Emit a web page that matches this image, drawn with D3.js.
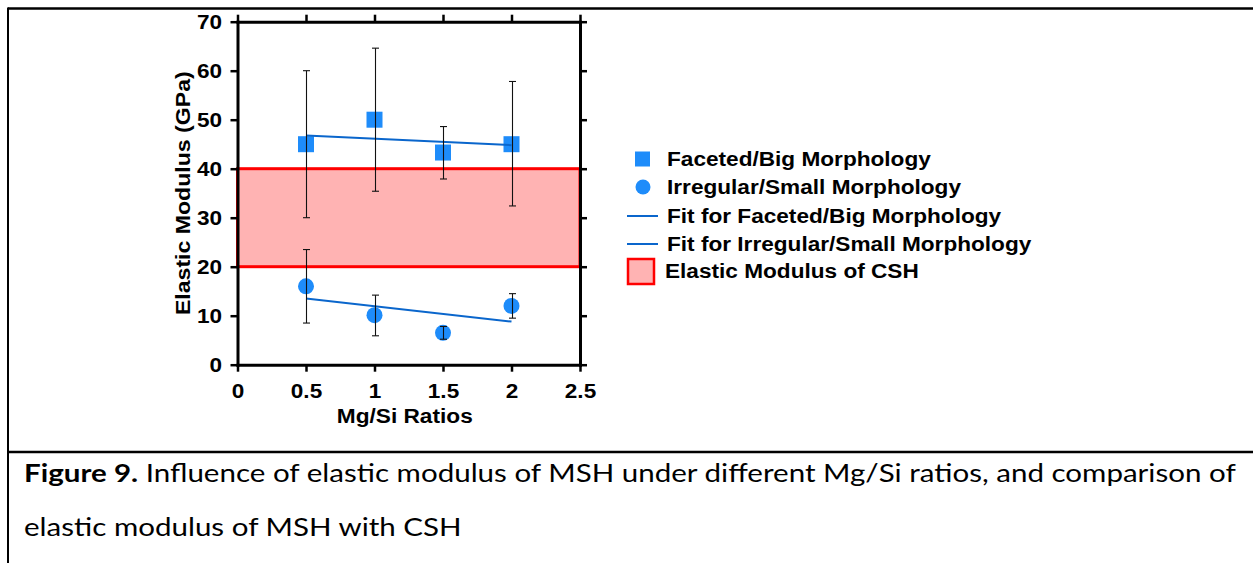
<!DOCTYPE html>
<html>
<head>
<meta charset="utf-8">
<script src="https://cdn.jsdelivr.net/npm/d3@7"></script>
<style>
  html, body { margin: 0; padding: 0; background: #fff; }
  svg { display: block; }
  .lbl { font-family: "Liberation Sans", Arial, Helvetica, sans-serif; font-weight: bold; fill: #000; }
  .cap { font-family: Lato, "Open Sans", sans-serif; fill: #000; }
</style>
</head>
<body>
<svg id="chart" width="1253" height="563"></svg>
<script>
// Mg/Si ratios tested
const ratios = [0.5, 1, 1.5, 2];

// Faceted / big morphology: mean and error-bar limits (GPa)
const facetedMean = [45, 50, 43.3, 45];
const facetedHigh = [60, 64.6, 48.6, 57.8];
const facetedLow  = [30, 35.4, 37.9, 32.4];

// Irregular / small morphology: mean and error-bar limits (GPa)
const irregularMean = [16, 10.1, 6.5, 12];
const irregularHigh = [23.5, 14.2, 7.8, 14.5];
const irregularLow  = [8.5, 5.9, 5.2, 9.5];

// Linear fit end points over the ratio range
const fitRange = [0.5, 2];
const fitFaceted = [46.8, 44.8];
const fitIrregular = [13.5, 8.8];

// Elastic modulus range of C-S-H (GPa)
const cshRange = [20, 40];

// Axis ticks
const xTicks = [0, 0.5, 1, 1.5, 2, 2.5];
const xTickLabels = ["0", "0.5", "1", "1.5", "2", "2.5"];
const yTicks = [0, 10, 20, 30, 40, 50, 60, 70];
const yTickLabels = ["0", "10", "20", "30", "40", "50", "60", "70"];

const legendLabels = [
  "Faceted/Big Morphology",
  "Irregular/Small Morphology",
  "Fit for Faceted/Big Morphology",
  "Fit for Irregular/Small Morphology",
  "Elastic Modulus of CSH"
];

const captionBold = "Figure 9.";
const captionLine1 = " Influence of elastic modulus of MSH under different Mg/Si ratios, and comparison of";
const captionLine2 = "elastic modulus of MSH with CSH";

const markerBlue = "#1e8cfa";
const fitBlue = "#0a66cc";

const svg = d3.select("#chart");

// outer frame of the figure and caption separator
svg.append("line").attr("x1", 8).attr("x2", 1253).attr("y1", 8.5).attr("y2", 8.5)
  .attr("stroke", "#000").attr("stroke-width", 2.5);
svg.append("line").attr("x1", 8).attr("x2", 8).attr("y1", 7.5).attr("y2", 563)
  .attr("stroke", "#000").attr("stroke-width", 2);
svg.append("line").attr("x1", 8).attr("x2", 1253).attr("y1", 452).attr("y2", 452)
  .attr("stroke", "#000").attr("stroke-width", 2.5);

const x = d3.scaleLinear().domain([0, 2.5]).range([237.5, 580]);
const y = d3.scaleLinear().domain([0, 70]).range([364.7, 21.7]);

// C-S-H band
svg.append("rect")
  .attr("x", x(0)).attr("y", y(cshRange[1]))
  .attr("width", x(2.5) - x(0)).attr("height", y(cshRange[0]) - y(cshRange[1]))
  .attr("fill", "#ffb3b3").attr("stroke", "#ff0000").attr("stroke-width", 3);

// axes: box with outward ticks on all four sides
function styleAxis(g) {
  g.select(".domain").attr("stroke-width", 3).attr("stroke-linecap", "square");
  g.selectAll(".tick line").attr("stroke-width", 2.5);
  g.selectAll(".tick text").attr("class", "lbl").attr("font-size", 20.5)
    .attr("transform", "scale(1.1,1)");
}

svg.append("g").attr("transform", `translate(0,${y(0)})`)
  .call(d3.axisBottom(x).tickValues(xTicks).tickFormat((d, i) => xTickLabels[i])
    .tickSize(7).tickSizeOuter(0).tickPadding(12))
  .call(styleAxis);
svg.append("g").attr("transform", `translate(0,${y(70)})`)
  .call(d3.axisTop(x).tickValues(xTicks).tickFormat("").tickSize(7).tickSizeOuter(0))
  .call(styleAxis);
svg.append("g").attr("transform", `translate(${x(0)},0)`)
  .call(d3.axisLeft(y).tickValues(yTicks).tickFormat((d, i) => yTickLabels[i])
    .tickSize(7).tickSizeOuter(0).tickPadding(7))
  .call(styleAxis);
svg.append("g").attr("transform", `translate(${x(2.5)},0)`)
  .call(d3.axisRight(y).tickValues(yTicks).tickFormat("").tickSize(7).tickSizeOuter(0))
  .call(styleAxis);

// axis titles
svg.append("text").attr("class", "lbl").attr("font-size", 21)
  .attr("text-anchor", "middle")
  .attr("transform", `translate(${(x(0) + x(2.5)) / 2 - 4},423) scale(1.08,1)`)
  .text("Mg/Si Ratios");
svg.append("text").attr("class", "lbl").attr("font-size", 21)
  .attr("text-anchor", "middle")
  .attr("transform", `translate(190,${(y(0) + y(70)) / 2}) rotate(-90) scale(1.1,1)`)
  .text("Elastic Modulus (GPa)");

// markers
const sq = 16;
svg.append("g").selectAll("rect").data(ratios).join("rect")
  .attr("x", d => x(d) - sq / 2)
  .attr("y", (d, i) => y(facetedMean[i]) - sq / 2)
  .attr("width", sq).attr("height", sq)
  .attr("fill", markerBlue);
svg.append("g").selectAll("circle").data(ratios).join("circle")
  .attr("cx", d => x(d))
  .attr("cy", (d, i) => y(irregularMean[i]))
  .attr("r", 8)
  .attr("fill", markerBlue);

// fit lines
const fitLine = d3.line().x(d => x(d[0])).y(d => y(d[1]));
[fitFaceted, fitIrregular].forEach(f => {
  svg.append("path")
    .attr("d", fitLine(fitRange.map((r, i) => [r, f[i]])))
    .attr("fill", "none").attr("stroke", fitBlue).attr("stroke-width", 2);
});

// error bars
function errorBars(high, low) {
  const g = svg.append("g").attr("stroke", "#111").attr("stroke-width", 1.1);
  ratios.forEach((r, i) => {
    const cx = Math.round(x(r)) + 0.5;
    g.append("line").attr("x1", cx).attr("x2", cx).attr("y1", y(high[i])).attr("y2", y(low[i]));
    g.append("line").attr("x1", cx - 3.5).attr("x2", cx + 3.5).attr("y1", y(high[i])).attr("y2", y(high[i]));
    g.append("line").attr("x1", cx - 3.5).attr("x2", cx + 3.5).attr("y1", y(low[i])).attr("y2", y(low[i]));
  });
}
errorBars(facetedHigh, facetedLow);
errorBars(irregularHigh, irregularLow);

// legend
const legendY = [159, 187, 216, 244, 271];
const leg = svg.append("g");
leg.append("rect").attr("x", 635).attr("y", legendY[0] - 7.5).attr("width", 15).attr("height", 15).attr("fill", markerBlue);
leg.append("circle").attr("cx", 643).attr("cy", legendY[1]).attr("r", 7.5).attr("fill", markerBlue);
leg.append("line").attr("x1", 627).attr("x2", 658).attr("y1", legendY[2]).attr("y2", legendY[2]).attr("stroke", fitBlue).attr("stroke-width", 2);
leg.append("line").attr("x1", 627).attr("x2", 658).attr("y1", legendY[3]).attr("y2", legendY[3]).attr("stroke", fitBlue).attr("stroke-width", 2);
leg.append("rect").attr("x", 628).attr("y", legendY[4] - 12).attr("width", 26).attr("height", 25)
  .attr("fill", "#ffb3b3").attr("stroke", "#ff0000").attr("stroke-width", 2.5);
const legendX = [667, 667, 667, 667, 665];
leg.selectAll("text").data(legendLabels).join("text")
  .attr("class", "lbl").attr("font-size", 19.5)
  .attr("transform", (d, i) => `translate(${legendX[i]},${legendY[i] + 6.5}) scale(1.16,1)`)
  .text(d => d);

// caption
const capSize = 25;
const cap1 = svg.append("text").attr("class", "cap").attr("font-size", capSize)
  .attr("x", 0).attr("y", 0);
cap1.append("tspan").attr("font-weight", "bold").text(captionBold);
cap1.append("tspan").text(captionLine1);
const cap2 = svg.append("text").attr("class", "cap").attr("font-size", capSize)
  .attr("x", 0).attr("y", 0).text(captionLine2);
const natural = cap1.node().getComputedTextLength();
const sx = 1212 / natural;
cap1.attr("transform", `translate(24,482) scale(${sx},1)`);
cap2.attr("transform", `translate(24,536) scale(${sx},1)`);
</script>
</body>
</html>
